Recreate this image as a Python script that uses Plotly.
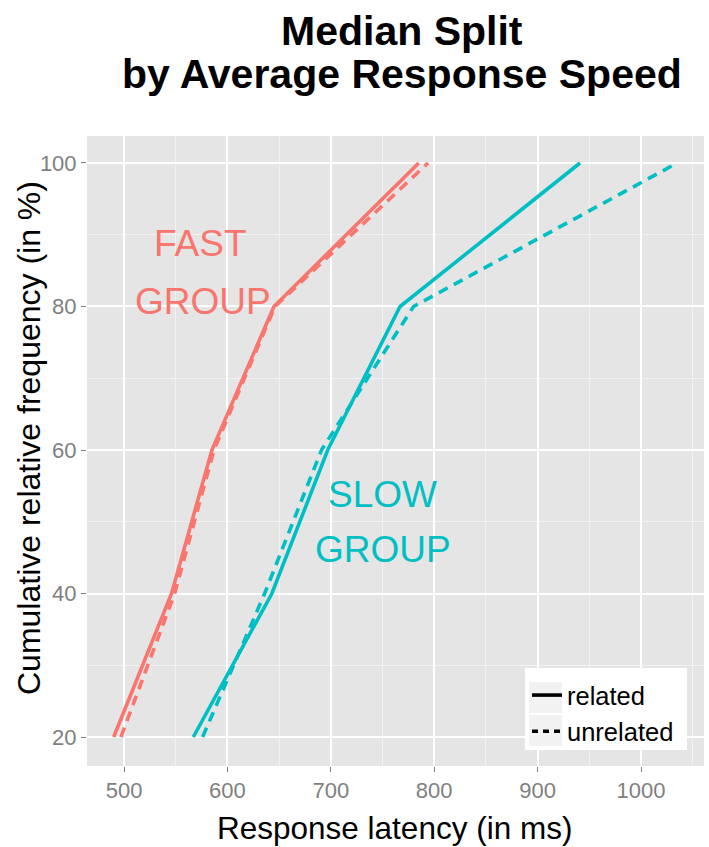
import plotly.graph_objects as go

# ---- data ----
freq = [20, 40, 60, 80, 100]
fast_related = [490, 546, 585, 645, 785]
fast_unrelated = [497, 549, 587, 646, 794]
slow_related = [567, 643, 697, 767, 941]
slow_unrelated = [576, 636, 691, 780, 1035]
x_ticks = [500, 600, 700, 800, 900, 1000]
y_ticks = [20, 40, 60, 80, 100]

RED = "#F8766D"
CYAN = "#00BFC4"
LW = 3.6
DASH = "10px,7px"

# plot area in pixels
L, R, T, B = 87, 704, 136, 766
W, H = 709, 847

fig = go.Figure()
for xs, col, dash in [
    (fast_related, RED, "solid"),
    (fast_unrelated, RED, DASH),
    (slow_related, CYAN, "solid"),
    (slow_unrelated, CYAN, DASH),
]:
    fig.add_trace(go.Scatter(x=xs, y=freq, mode="lines", showlegend=False,
                             line=dict(color=col, width=LW, dash=dash)))

# legend entries
fig.add_trace(go.Scatter(x=[None], y=[None], mode="lines", name="related",
                         line=dict(color="black", width=LW)))
fig.add_trace(go.Scatter(x=[None], y=[None], mode="lines", name="unrelated",
                         line=dict(color="black", width=LW, dash="6px,5px")))

FONT = "Liberation Sans, Arial, sans-serif"

def px_x(p):
    return (p - L) / (R - L)

def px_y(p):
    return (B - p) / (B - T)

# legend background box and key backgrounds (ggplot style)
fig.add_shape(type="rect", xref="paper", yref="paper", layer="above",
              x0=px_x(525), x1=px_x(687), y0=px_y(750), y1=px_y(668),
              fillcolor="white", line=dict(width=0))
for y0, y1 in [(682, 713), (715, 746)]:
    fig.add_shape(type="rect", xref="paper", yref="paper", layer="above",
                  x0=px_x(529), x1=px_x(562), y0=px_y(y1), y1=px_y(y0),
                  fillcolor="#F2F2F2", line=dict(width=0))

# group labels
for txt, x, y, col in [("FAST", 574, 88.8, RED), ("GROUP", 576, 80.7, RED),
                       ("SLOW", 750, 53.8, CYAN), ("GROUP", 750, 46.2, CYAN)]:
    fig.add_annotation(x=x, y=y, xref="x", yref="y", text=txt, showarrow=False,
                       font=dict(family=FONT, size=37, color=col),
                       xanchor="center", yanchor="middle")

# title (two lines)
for txt, ypx in [("<b>Median Split</b>", 31), ("<b>by Average Response Speed</b>", 74)]:
    fig.add_annotation(x=px_x(402), y=px_y(ypx), xref="paper", yref="paper",
                       text=txt, showarrow=False,
                       font=dict(family=FONT, size=41, color="black"),
                       xanchor="center", yanchor="middle")

# axis titles
fig.add_annotation(x=px_x(394), y=px_y(828), xref="paper", yref="paper",
                   text="Response latency (in ms)", showarrow=False,
                   font=dict(family=FONT, size=31.5, color="black"),
                   xanchor="center", yanchor="middle")
fig.add_annotation(x=px_x(29), y=px_y(438), xref="paper", yref="paper",
                   text="Cumulative relative frequency (in %)", showarrow=False,
                   textangle=-90,
                   font=dict(family=FONT, size=32, color="black"),
                   xanchor="center", yanchor="middle")

fig.update_layout(
    width=W, height=H,
    margin=dict(l=L, r=W - R, t=T, b=H - B, autoexpand=False),
    paper_bgcolor="white",
    plot_bgcolor="#E5E5E5",
    font=dict(family=FONT, color="black"),
    legend=dict(x=px_x(527), y=px_y(672), xanchor="left", yanchor="top",
                bgcolor="rgba(0,0,0,0)", font=dict(size=25.5, color="black"),
                itemwidth=30, tracegroupgap=0),
)

fig.update_xaxes(
    range=[464.2, 1060.9], tickvals=x_ticks, ticktext=[str(v) for v in x_ticks],
    automargin=False,
    showgrid=True, gridcolor="white", gridwidth=1.6, zeroline=False,
    ticks="outside", ticklen=5, tickcolor="#7F7F7F", tickwidth=1,
    tickfont=dict(size=22, color="#7F7F7F"),
    minor=dict(tickvals=[550, 650, 750, 850, 950, 1050], showgrid=True,
               gridcolor="#F2F2F2", gridwidth=1, ticks=""),
)
fig.update_yaxes(
    range=[15.96, 103.76], tickvals=y_ticks, ticktext=[str(v) for v in y_ticks],
    automargin=False,
    showgrid=True, gridcolor="white", gridwidth=1.6, zeroline=False,
    ticks="outside", ticklen=5, tickcolor="#7F7F7F", tickwidth=1,
    tickfont=dict(size=22, color="#7F7F7F"),
    minor=dict(tickvals=[30, 50, 70, 90], showgrid=True,
               gridcolor="#F2F2F2", gridwidth=1, ticks=""),
)

fig.write_html("out.html",
               config={"displayModeBar": False},
               post_script="document.body.style.margin='0';"
                           "document.body.style.overflow='hidden';")
